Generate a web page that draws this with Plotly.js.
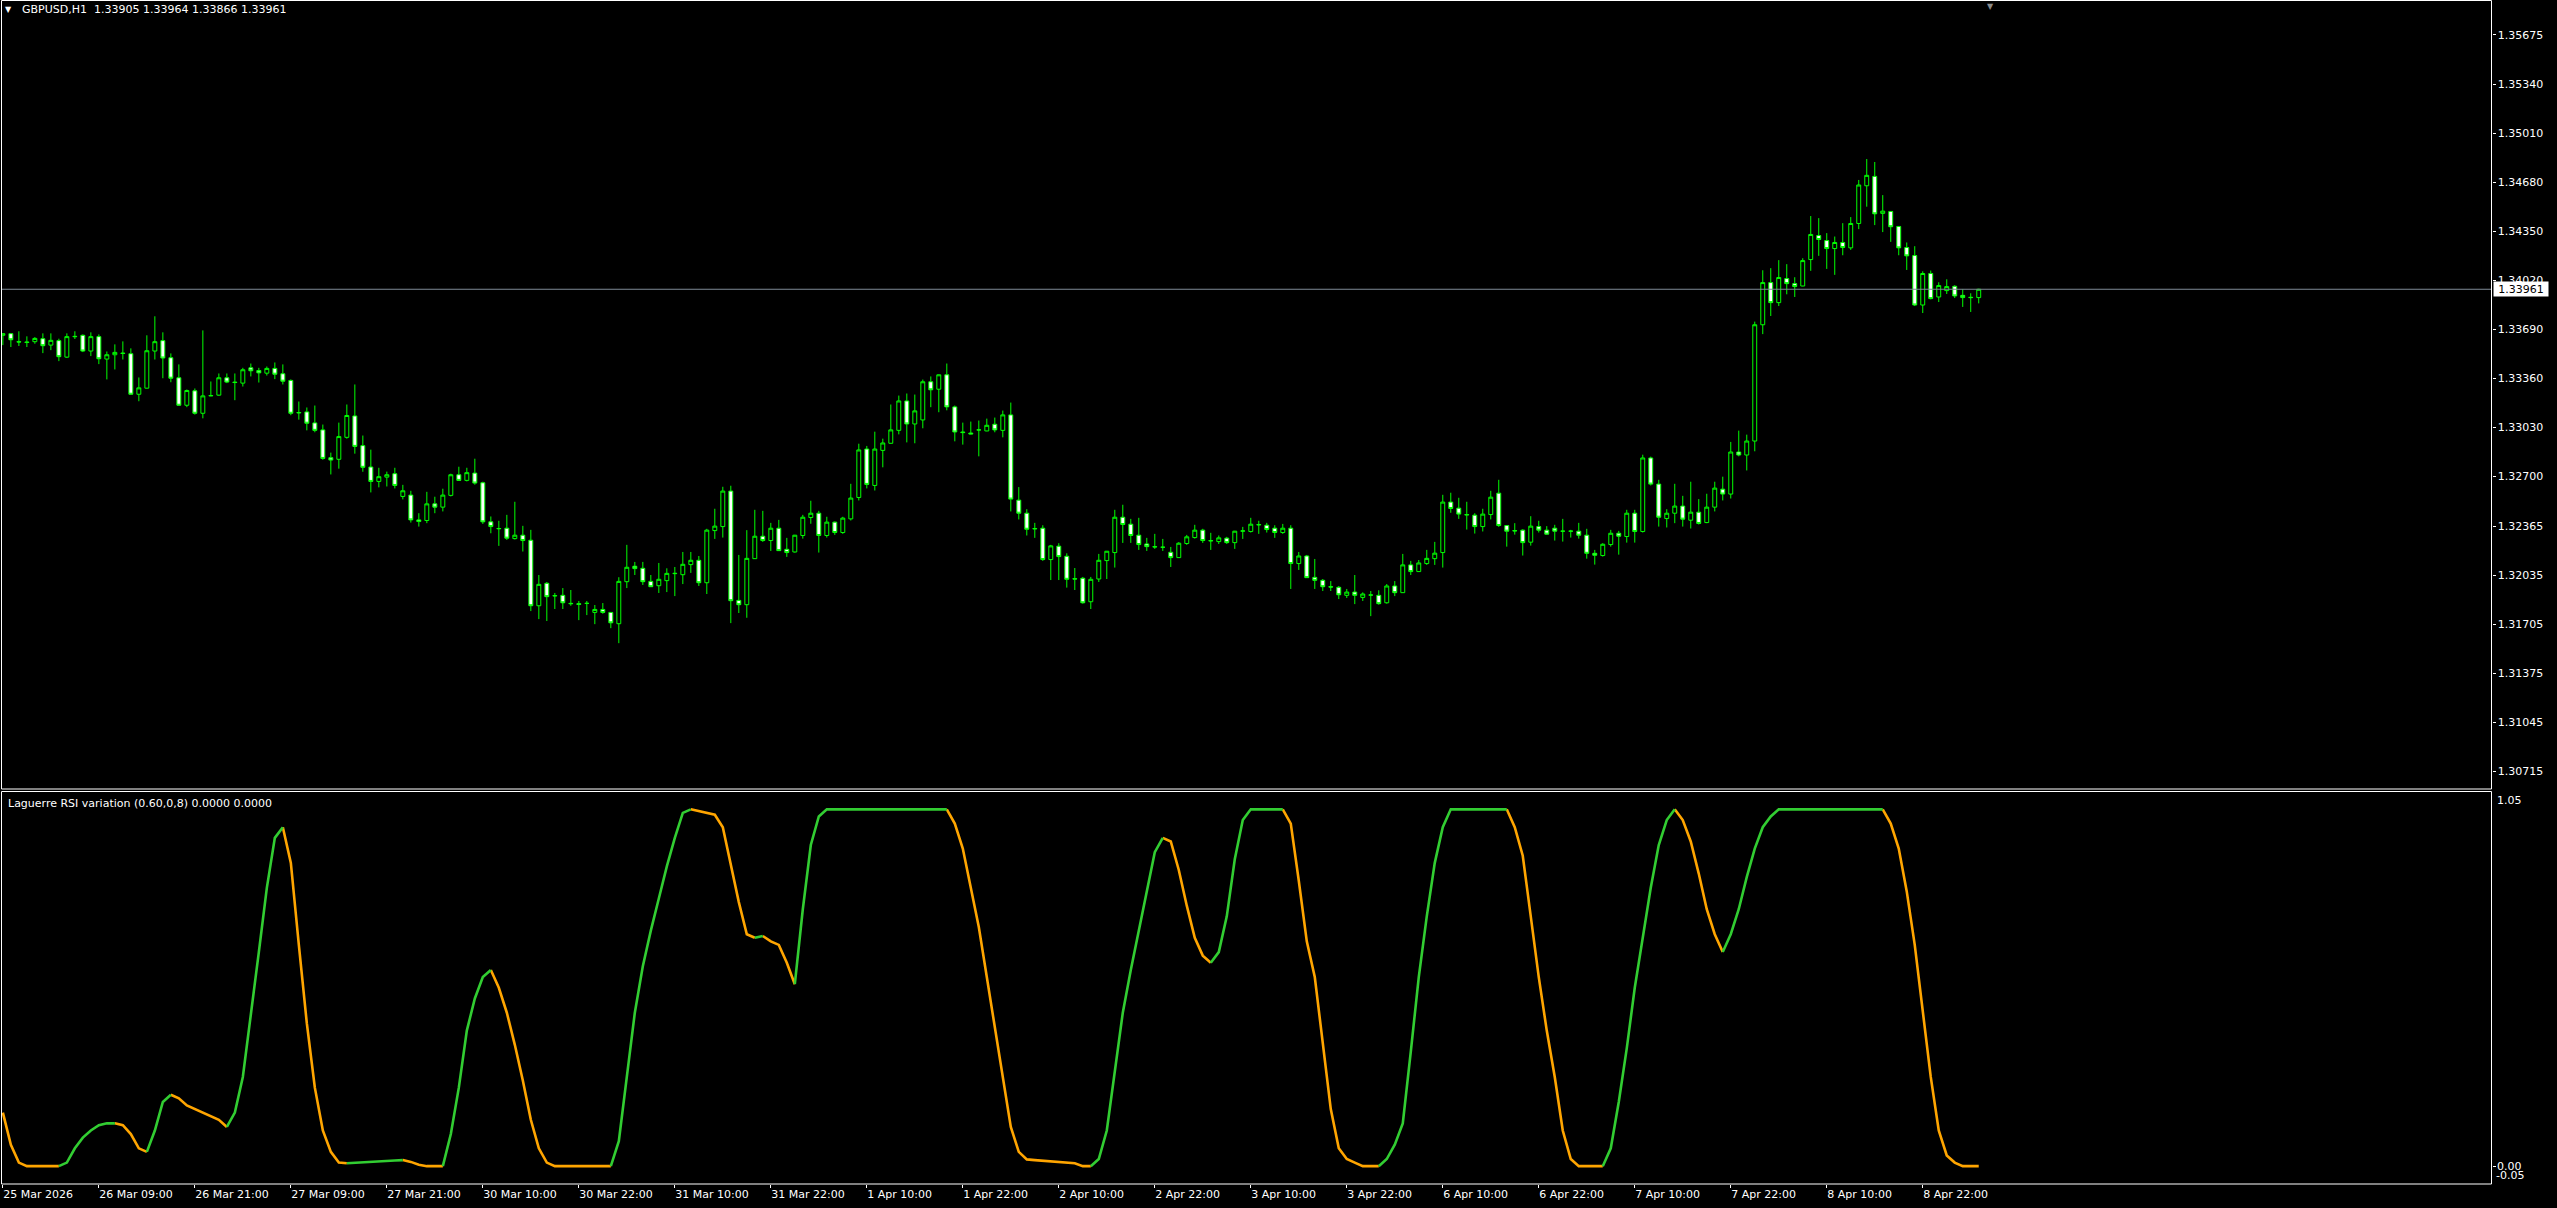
<!DOCTYPE html>
<html>
<head>
<meta charset="utf-8">
<script src="https://cdn.plot.ly/plotly-3.0.1.min.js"></script>
<style>html,body{margin:0;padding:0;background:#000;overflow:hidden}#chart{width:2557px;height:1208px}</style>
</head>
<body>
<div id="chart"></div>
<script>
const symbol = 'GBPUSD,H1';
const indicatorName = 'Laguerre RSI variation (0.60,0,8)';
const tickBars = [0,12,24,36,48,60,72,84,96,108,120,132,144,156,168,180,192,204,216,228,240];
const tickLabels = ['25 Mar 2026','26 Mar 09:00','26 Mar 21:00','27 Mar 09:00','27 Mar 21:00','30 Mar 10:00','30 Mar 22:00','31 Mar 10:00','31 Mar 22:00','1 Apr 10:00','1 Apr 22:00','2 Apr 10:00','2 Apr 22:00','3 Apr 10:00','3 Apr 22:00','6 Apr 10:00','6 Apr 22:00','7 Apr 10:00','7 Apr 22:00','8 Apr 10:00','8 Apr 22:00'];
const priceTicks = [1.35675,1.35340,1.35010,1.34680,1.34350,1.34020,1.33690,1.33360,1.33030,1.32700,1.32365,1.32035,1.31705,1.31375,1.31045,1.30715];

const open = [
1.33651,1.33662,1.33608,1.33606,1.33608,1.33628,1.33585,1.33615,1.33504,1.33644,
1.33651,1.33545,1.33642,1.33491,1.33520,1.33531,1.33527,1.33254,1.33295,1.33545,
1.33615,1.33500,1.33365,1.33180,1.33277,1.33126,1.33243,1.33248,1.33365,1.33336,
1.33329,1.33432,1.33414,1.33396,1.33428,1.33392,1.33347,1.33128,1.33135,1.33061,
1.33014,1.32827,1.32816,1.32964,1.33108,1.32908,1.32764,1.32667,1.32696,1.32719,
1.32566,1.32575,1.32408,1.32404,1.32516,1.32494,1.32573,1.32712,1.32674,1.32723,
1.32658,1.32395,1.32348,1.32352,1.32282,1.32305,1.32271,1.31830,1.31981,1.31896,
1.31900,1.31846,1.31844,1.31846,1.31785,1.31805,1.31785,1.31709,1.31992,1.32096,
1.32082,1.31994,1.31965,1.31999,1.32046,1.32039,1.32107,1.32136,1.31985,1.32336,
1.32363,1.32602,1.31866,1.31837,1.32147,1.32298,1.32269,1.32352,1.32210,1.32192,
1.32303,1.32424,1.32453,1.32303,1.32393,1.32323,1.32415,1.32559,1.32885,1.32640,
1.32876,1.32924,1.33011,1.33209,1.33054,1.33081,1.33338,1.33288,1.33385,1.33169,
1.33000,1.32993,1.33014,1.33007,1.33052,1.33011,1.33115,1.32541,1.32453,1.32350,
1.32352,1.32141,1.32231,1.32163,1.32012,1.32015,1.31857,1.32010,1.32134,1.32188,
1.32426,1.32379,1.32305,1.32246,1.32228,1.32224,1.32190,1.32154,1.32249,1.32289,
1.32339,1.32269,1.32262,1.32285,1.32255,1.32332,1.32330,1.32377,1.32372,1.32352,
1.32323,1.32352,1.32114,1.32165,1.32021,1.32001,1.31958,1.31954,1.31900,1.31922,
1.31886,1.31902,1.31900,1.31850,1.31963,1.31918,1.32105,1.32060,1.32114,1.32147,
1.32188,1.32528,1.32487,1.32444,1.32440,1.32363,1.32444,1.32588,1.32370,1.32336,
1.32339,1.32258,1.32363,1.32339,1.32352,1.32332,1.32332,1.32332,1.32305,1.32183,
1.32168,1.32242,1.32318,1.32296,1.32453,1.32330,1.32825,1.32649,1.32417,1.32453,
1.32501,1.32406,1.32460,1.32390,1.32494,1.32615,1.32582,1.32865,1.32845,1.32939,
1.33722,1.34006,1.33871,1.34033,1.33999,1.33983,1.34161,1.34323,1.34289,1.34235,
1.34276,1.34240,1.34404,1.34658,1.34721,1.34472,1.34485,1.34384,1.34242,1.34188,
1.33855,1.34067,1.33909,1.33952,1.33981,1.33920,1.33907,1.33905];
const high = [
1.33662,1.33666,1.33678,1.33644,1.33639,1.33664,1.33664,1.33628,1.33664,1.33678,
1.33657,1.33671,1.33657,1.33542,1.33590,1.33610,1.33563,1.33367,1.33651,1.33779,
1.33671,1.33529,1.33455,1.33286,1.33293,1.33684,1.33340,1.33394,1.33394,1.33394,
1.33432,1.33461,1.33432,1.33441,1.33468,1.33455,1.33354,1.33205,1.33165,1.33178,
1.33050,1.32861,1.33063,1.33185,1.33320,1.32976,1.32881,1.32759,1.32733,1.32759,
1.32644,1.32604,1.32453,1.32597,1.32564,1.32618,1.32719,1.32766,1.32759,1.32820,
1.32665,1.32431,1.32402,1.32442,1.32530,1.32368,1.32341,1.32037,1.31990,1.31916,
1.31949,1.31936,1.31862,1.31862,1.31835,1.31848,1.31788,1.32022,1.32240,1.32125,
1.32125,1.32037,1.32118,1.32082,1.32091,1.32192,1.32192,1.32165,1.32348,1.32483,
1.32631,1.32638,1.32172,1.32339,1.32476,1.32469,1.32388,1.32408,1.32287,1.32307,
1.32442,1.32537,1.32469,1.32429,1.32397,1.32429,1.32651,1.32921,1.32906,1.33002,
1.32955,1.33185,1.33245,1.33259,1.33252,1.33353,1.33374,1.33387,1.33461,1.33178,
1.33063,1.33070,1.33077,1.33090,1.33097,1.33144,1.33198,1.32629,1.32480,1.32388,
1.32372,1.32240,1.32251,1.32183,1.32084,1.32024,1.32024,1.32179,1.32199,1.32476,
1.32510,1.32415,1.32422,1.32287,1.32314,1.32280,1.32226,1.32258,1.32307,1.32375,
1.32348,1.32321,1.32303,1.32294,1.32334,1.32361,1.32422,1.32402,1.32388,1.32372,
1.32381,1.32372,1.32192,1.32172,1.32145,1.32010,1.31996,1.31963,1.31943,1.32037,
1.31920,1.31929,1.31934,1.31976,1.31996,1.32179,1.32132,1.32138,1.32206,1.32260,
1.32577,1.32591,1.32557,1.32530,1.32453,1.32483,1.32604,1.32678,1.32372,1.32386,
1.32345,1.32433,1.32402,1.32366,1.32375,1.32415,1.32341,1.32388,1.32348,1.32206,
1.32251,1.32341,1.32334,1.32476,1.32476,1.32847,1.32834,1.32678,1.32480,1.32651,
1.32570,1.32665,1.32548,1.32584,1.32665,1.32699,1.32933,1.33009,1.32982,1.33743,
1.34089,1.34103,1.34157,1.34130,1.34042,1.34170,1.34454,1.34440,1.34339,1.34316,
1.34406,1.34447,1.34697,1.34838,1.34818,1.34595,1.34487,1.34386,1.34276,1.34251,
1.34082,1.34087,1.34008,1.34028,1.33988,1.33961,1.33934,1.33964];
const low = [
1.33585,1.33572,1.33579,1.33572,1.33594,1.33531,1.33551,1.33477,1.33498,1.33626,
1.33538,1.33511,1.33457,1.33354,1.33421,1.33488,1.33252,1.33207,1.33293,1.33488,
1.33362,1.33335,1.33178,1.33167,1.33117,1.33092,1.33241,1.33244,1.33329,1.33214,
1.33306,1.33374,1.33333,1.33380,1.33356,1.33320,1.33113,1.33083,1.33011,1.32998,
1.32813,1.32714,1.32753,1.32955,1.32854,1.32732,1.32593,1.32627,1.32633,1.32620,
1.32546,1.32390,1.32363,1.32386,1.32453,1.32465,1.32566,1.32672,1.32667,1.32645,
1.32381,1.32318,1.32233,1.32273,1.32276,1.32195,1.31794,1.31740,1.31727,1.31808,
1.31808,1.31830,1.31733,1.31767,1.31706,1.31776,1.31679,1.31578,1.31949,1.32037,
1.31970,1.31956,1.31916,1.31922,1.31895,1.31976,1.32051,1.31963,1.31909,1.32280,
1.32289,1.31713,1.31781,1.31749,1.32145,1.32260,1.32199,1.32199,1.32159,1.32188,
1.32282,1.32382,1.32188,1.32289,1.32307,1.32314,1.32404,1.32539,1.32620,1.32606,
1.32762,1.32921,1.32984,1.32930,1.32924,1.33025,1.33167,1.33133,1.33146,1.32937,
1.32915,1.32985,1.32836,1.33005,1.32998,1.32964,1.32465,1.32411,1.32303,1.32287,
1.32132,1.32003,1.32003,1.31952,1.31936,1.31844,1.31808,1.31990,1.32010,1.32087,
1.32253,1.32253,1.32206,1.32199,1.32213,1.32199,1.32091,1.32152,1.32240,1.32282,
1.32253,1.32206,1.32246,1.32246,1.32213,1.32280,1.32323,1.32314,1.32323,1.32287,
1.32314,1.31943,1.32071,1.32017,1.31943,1.31929,1.31929,1.31875,1.31882,1.31841,
1.31862,1.31760,1.31837,1.31844,1.31895,1.31916,1.32037,1.32057,1.32105,1.32105,
1.32087,1.32456,1.32415,1.32343,1.32316,1.32330,1.32411,1.32361,1.32228,1.32309,
1.32168,1.32235,1.32323,1.32309,1.32269,1.32262,1.32289,1.32282,1.32147,1.32107,
1.32161,1.32228,1.32174,1.32255,1.32255,1.32323,1.32640,1.32363,1.32357,1.32386,
1.32363,1.32350,1.32377,1.32386,1.32465,1.32539,1.32552,1.32836,1.32741,1.32870,
1.33659,1.33781,1.33848,1.33927,1.33909,1.33981,1.34085,1.34186,1.34098,1.34058,
1.34190,1.34226,1.34366,1.34517,1.34393,1.34346,1.34280,1.34190,1.34091,1.33848,
1.33801,1.33893,1.33875,1.33929,1.33902,1.33842,1.33808,1.33866];
const close = [
1.33662,1.33621,1.33606,1.33603,1.33630,1.33581,1.33617,1.33507,1.33642,1.33642,
1.33545,1.33642,1.33493,1.33520,1.33536,1.33529,1.33254,1.33297,1.33547,1.33608,
1.33498,1.33362,1.33180,1.33279,1.33126,1.33243,1.33245,1.33365,1.33336,1.33333,
1.33419,1.33412,1.33398,1.33428,1.33389,1.33342,1.33126,1.33131,1.33059,1.33011,
1.32822,1.32811,1.32969,1.33111,1.32903,1.32762,1.32667,1.32699,1.32712,1.32640,
1.32604,1.32408,1.32397,1.32516,1.32494,1.32575,1.32712,1.32674,1.32726,1.32656,
1.32395,1.32363,1.32350,1.32285,1.32305,1.32269,1.31830,1.31974,1.31891,1.31898,
1.31850,1.31844,1.31839,1.31846,1.31805,1.31785,1.31715,1.31994,1.32089,1.32080,
1.31992,1.31958,1.32008,1.32048,1.32048,1.32109,1.32136,1.31985,1.32339,1.32366,
1.32602,1.31864,1.31837,1.32149,1.32298,1.32269,1.32352,1.32201,1.32188,1.32305,
1.32426,1.32453,1.32303,1.32393,1.32323,1.32420,1.32555,1.32879,1.32647,1.32885,
1.32926,1.33014,1.33209,1.33054,1.33142,1.33338,1.33284,1.33385,1.33169,1.33000,
1.32996,1.32987,1.33014,1.33045,1.33014,1.33115,1.32548,1.32453,1.32345,1.32348,
1.32141,1.32233,1.32161,1.32008,1.32010,1.31850,1.32008,1.32136,1.32197,1.32426,
1.32377,1.32303,1.32242,1.32228,1.32226,1.32224,1.32154,1.32251,1.32294,1.32339,
1.32269,1.32267,1.32287,1.32255,1.32332,1.32334,1.32379,1.32375,1.32343,1.32323,
1.32352,1.32114,1.32165,1.32019,1.32001,1.31958,1.31956,1.31904,1.31922,1.31900,
1.31909,1.31902,1.31844,1.31963,1.31918,1.32105,1.32060,1.32118,1.32149,1.32184,
1.32528,1.32485,1.32447,1.32442,1.32363,1.32447,1.32561,1.32370,1.32332,1.32334,
1.32255,1.32366,1.32339,1.32312,1.32332,1.32332,1.32332,1.32305,1.32183,1.32170,
1.32244,1.32318,1.32298,1.32453,1.32330,1.32825,1.32649,1.32426,1.32453,1.32501,
1.32413,1.32460,1.32384,1.32494,1.32622,1.32582,1.32865,1.32845,1.32939,1.33722,
1.34006,1.33871,1.34040,1.33999,1.33979,1.34154,1.34330,1.34296,1.34235,1.34276,
1.34242,1.34404,1.34663,1.34728,1.34469,1.34487,1.34382,1.34240,1.34186,1.33855,
1.34067,1.33898,1.33986,1.33979,1.33916,1.33905,1.33905,1.33961];

const laguerre = [
0.15,0.06,0.01,0,0,0,0,0,0.01,0.05,
0.08,0.10,0.115,0.12,0.12,0.115,0.09,0.05,0.04,0.10,
0.18,0.20,0.19,0.17,0.16,0.15,0.14,0.13,0.11,0.15,
0.25,0.42,0.60,0.78,0.92,0.95,0.85,0.62,0.40,0.22,
0.10,0.04,0.01,0.008,0.009,0.010,0.011,0.012,0.014,0.016,
0.017,0.012,0.004,0,0,0,0.09,0.22,0.38,0.47,
0.53,0.55,0.50,0.43,0.34,0.24,0.13,0.05,0.01,0,
0,0,0,0,0,0,0,0.07,0.25,0.43,
0.56,0.66,0.75,0.84,0.92,0.99,1,0.995,0.99,0.985,
0.95,0.84,0.74,0.65,0.64,0.645,0.63,0.62,0.57,0.51,
0.72,0.90,0.98,1,1,1,1,1,1,1,
1,1,1,1,1,1,1,1,1,0.96,
0.89,0.78,0.67,0.53,0.39,0.25,0.11,0.04,0.019,0.017,
0.015,0.014,0.012,0.010,0.008,0,0,0.02,0.10,0.27,
0.43,0.55,0.66,0.77,0.88,0.92,0.91,0.83,0.73,0.64,
0.59,0.57,0.60,0.70,0.86,0.97,1,1,1,1,
1,0.96,0.80,0.63,0.53,0.34,0.16,0.05,0.02,0.01,
0,0,0,0.02,0.06,0.12,0.32,0.53,0.70,0.85,
0.95,1,1,1,1,1,1,1,1,0.95,
0.87,0.70,0.53,0.38,0.25,0.10,0.02,0,0,0,
0,0.05,0.18,0.33,0.50,0.64,0.78,0.90,0.97,1,
0.97,0.91,0.82,0.72,0.65,0.60,0.65,0.72,0.81,0.89,
0.95,0.98,1,1,1,1,1,1,1,1,
1,1,1,1,1,1,0.96,0.89,0.77,0.62,
0.43,0.25,0.10,0.03,0.01,0,0,0];

const n = close.length;
const bars = close.map((_, i) => i);
const W = 2557, H = 1208;
const FONT = 'DejaVu Sans';
const last = n - 1;

// split the indicator into rising (green) and falling (orange) pieces
const upX = [], upY = [], dnX = [], dnY = [];
let dir = -1, lastUp = -2, lastDn = -2;
for (let i = 1; i < n; i++) {
  const d = laguerre[i] - laguerre[i - 1];
  if (d > 0) dir = 1; else if (d < 0) dir = -1;
  if (dir > 0) {
    if (lastUp !== i - 1) { if (upX.length) { upX.push(null); upY.push(null); } upX.push(i - 1); upY.push(laguerre[i - 1]); }
    upX.push(i); upY.push(laguerre[i]); lastUp = i;
  } else {
    if (lastDn !== i - 1) { if (dnX.length) { dnX.push(null); dnY.push(null); } dnX.push(i - 1); dnY.push(laguerre[i - 1]); }
    dnX.push(i); dnY.push(laguerre[i]); lastDn = i;
  }
}

const traces = [
  {
    type: 'candlestick', x: bars, open: open, high: high, low: low, close: close,
    xaxis: 'x', yaxis: 'y', whiskerwidth: 0,
    increasing: { line: { color: '#00ff00', width: 1 }, fillcolor: '#000000' },
    decreasing: { line: { color: '#00ff00', width: 1 }, fillcolor: '#ffffff' },
    hoverinfo: 'skip', showlegend: false
  },
  { type: 'scatter', mode: 'lines', x: dnX, y: dnY, xaxis: 'x', yaxis: 'y2', line: { color: '#ffa500', width: 2.6 }, hoverinfo: 'skip', showlegend: false, connectgaps: false },
  { type: 'scatter', mode: 'lines', x: upX, y: upY, xaxis: 'x', yaxis: 'y2', line: { color: '#32cd32', width: 2.6 }, hoverinfo: 'skip', showlegend: false, connectgaps: false }
];

const px = v => v / W;
const py = v => 1 - v / H;
const tf = { family: FONT, size: 11, color: '#ffffff' };

const layout = {
  width: W, height: H,
  margin: { l: 0, r: 0, t: 0, b: 0, pad: 0 },
  paper_bgcolor: '#000000', plot_bgcolor: '#000000',
  showlegend: false, hovermode: false, dragmode: false,
  xaxis: {
    domain: [px(1.5), px(2491.5)], range: [-0.17, 311.1], anchor: 'y2',
    showgrid: false, zeroline: false, showline: false,
    tickmode: 'array', tickvals: tickBars, ticktext: tickLabels,
    ticks: 'outside', ticklen: 3, tickwidth: 1, tickcolor: '#ffffff',
    ticklabelposition: 'outside right', tickfont: tf,
    rangeslider: { visible: false }, fixedrange: true
  },
  yaxis: {
    domain: [py(789), py(1)], range: [1.30596, 1.35902], anchor: 'x', side: 'right',
    showgrid: false, zeroline: false, showline: false,
    tickmode: 'array', tickvals: priceTicks, ticktext: priceTicks.map(v => v.toFixed(5)),
    ticks: 'outside', ticklen: 3, tickwidth: 1, tickcolor: '#ffffff', tickfont: tf, fixedrange: true
  },
  yaxis2: {
    domain: [py(1184), py(791.5)], range: [-0.05, 1.05], anchor: 'x', side: 'right',
    showgrid: false, zeroline: false, showline: false,
    tickmode: 'array', tickvals: [0], showticklabels: false,
    ticks: 'outside', ticklen: 3, tickwidth: 1, tickcolor: '#ffffff', fixedrange: true
  },
  shapes: [
    { type: 'line', xref: 'paper', yref: 'y', x0: px(1.5), x1: px(2491.5), y0: close[last], y1: close[last], line: { color: '#7f8b97', width: 1 } },
    { type: 'rect', xref: 'paper', yref: 'paper', x0: px(1.5), x1: px(2491.5), y0: py(789), y1: py(0.5), line: { color: '#ffffff', width: 1 } },
    { type: 'rect', xref: 'paper', yref: 'paper', x0: px(1.5), x1: px(2491.5), y0: py(1184), y1: py(791.5), line: { color: '#ffffff', width: 1 } }
  ],
  annotations: [
    { xref: 'paper', yref: 'paper', x: px(8.5), y: py(10), xanchor: 'center', yanchor: 'middle', text: '▼', showarrow: false, font: { family: FONT, size: 8, color: '#ffffff' } },
    { xref: 'paper', yref: 'paper', x: px(20), y: py(10), xanchor: 'left', yanchor: 'middle', showarrow: false, font: tf,
      text: symbol + '\u00a0\u00a0' + [open[last], high[last], low[last], close[last]].map(v => v.toFixed(5)).join(' ') },
    { xref: 'paper', yref: 'paper', x: px(1990), y: py(0), xanchor: 'center', yanchor: 'top', text: '▼', showarrow: false, font: { family: FONT, size: 8, color: '#8c8c8c' } },
    { xref: 'paper', yref: 'paper', x: px(6), y: py(803), xanchor: 'left', yanchor: 'middle', showarrow: false, font: tf,
      text: indicatorName + ' ' + laguerre[last].toFixed(4) + ' ' + laguerre[last].toFixed(4) },
    { xref: 'paper', yref: 'y', x: px(2493), y: close[last], xanchor: 'left', yanchor: 'middle', showarrow: false,
      text: close[last].toFixed(5), bgcolor: '#ffffff', width: 52, height: 12, borderpad: 1, font: { family: FONT, size: 11, color: '#000000' } },
    { xref: 'paper', yref: 'y2', x: px(2495), y: 1.05, xanchor: 'left', yanchor: 'top', showarrow: false, text: '1.05', font: tf },
    { xref: 'paper', yref: 'y2', x: px(2495), y: 0, xanchor: 'left', yanchor: 'middle', showarrow: false, text: '0.00', font: tf },
    { xref: 'paper', yref: 'y2', x: px(2494), y: -0.05, xanchor: 'left', yanchor: 'bottom', showarrow: false, text: '-0.05', font: tf }
  ]
};

Plotly.newPlot('chart', traces, layout, { staticPlot: true, displayModeBar: false, responsive: false });
</script>
</body>
</html>
